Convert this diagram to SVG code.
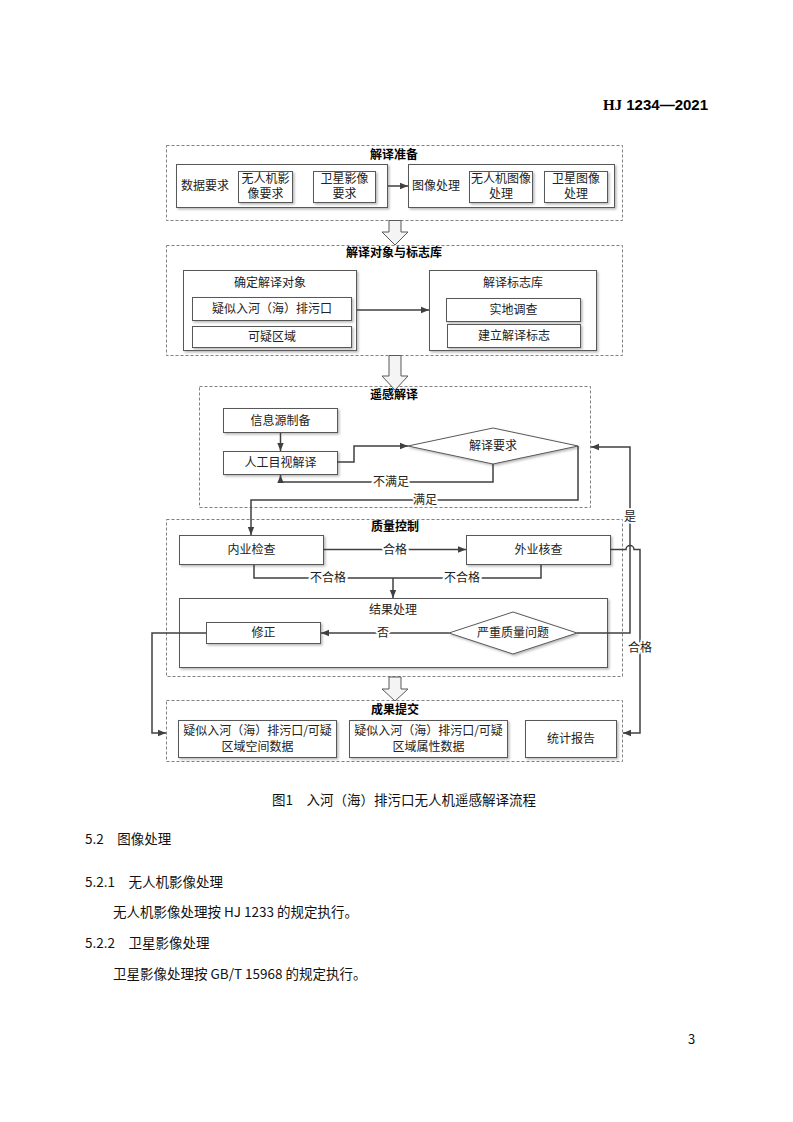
<svg xmlns="http://www.w3.org/2000/svg" width="793" height="1122" viewBox="0 0 793 1122">
<defs>
<style>
.dash{fill:none;stroke:#808080;stroke-width:1;stroke-dasharray:3 2}
.box{fill:#fff;stroke:#595959;stroke-width:1;filter:url(#sh)}
.t{font-family:"Noto Sans CJK SC",sans-serif;font-size:12px;fill:#222;text-anchor:middle}
.s{text-anchor:start}
.h{font-weight:bold;fill:#000}
.c{fill:none;stroke:#404040;stroke-width:1.5}
.a{marker-end:url(#ah)}
.lbl{paint-order:stroke;stroke:#fff;stroke-width:4px;stroke-linejoin:round}
.hol{fill:#f4f4f4;stroke:#595959;stroke-width:1}
.doc{font-family:"Noto Sans CJK SC",sans-serif;fill:#111}
</style>
<filter id="sh" x="-5%" y="-10%" width="115%" height="140%">
<feDropShadow dx="1.5" dy="1.5" stdDeviation="0.8" flood-color="#888" flood-opacity="0.6"/>
</filter>
<marker id="ah" viewBox="0 0 10 10" refX="10" refY="5" markerWidth="8" markerHeight="8" markerUnits="userSpaceOnUse" orient="auto">
<path d="M0,1 L10,5 L0,9 Z" fill="#404040"/>
</marker>
</defs>
<rect width="793" height="1122" fill="#fff"/>

<text x="708" y="110" font-size="15" font-weight="bold" text-anchor="end" fill="#000"><tspan font-family="Liberation Serif,serif">HJ</tspan><tspan font-family="Liberation Sans,sans-serif"> 1234—2021</tspan></text>

<!-- Stage 1 -->
<g id="stage1">
<rect class="dash" x="166.5" y="145.5" width="456" height="75"/>
<text class="t h" x="394" y="159">解译准备</text>
</g>
<g id="dataReq">
<rect class="box" x="176.5" y="164.5" width="211" height="43"/>
<text class="t s" x="181" y="190">数据要求</text>
</g>
<g id="uavReq">
<rect class="box" x="238.5" y="171.5" width="54" height="31"/>
<text class="t" x="265.5" y="183">无人机影</text>
<text class="t" x="265.5" y="198">像要求</text>
</g>
<g id="satReq">
<rect class="box" x="313.5" y="171.5" width="62" height="31"/>
<text class="t" x="344.5" y="183">卫星影像</text>
<text class="t" x="344.5" y="198">要求</text>
</g>
<g id="imgProc">
<rect class="box" x="408.5" y="164.5" width="206" height="43"/>
<text class="t s" x="412" y="190">图像处理</text>
</g>
<g id="uavProc">
<rect class="box" x="469.5" y="171.5" width="63" height="31"/>
<text class="t" x="501" y="183">无人机图像</text>
<text class="t" x="501" y="198">处理</text>
</g>
<g id="satProc">
<rect class="box" x="544.5" y="171.5" width="63" height="31"/>
<text class="t" x="576" y="183">卫星图像</text>
<text class="t" x="576" y="198">处理</text>
</g>

<!-- Stage 2 -->
<g id="stage2">
<rect class="dash" x="166.5" y="245.5" width="456" height="110"/>
<text class="t h" x="394" y="257">解译对象与标志库</text>
</g>
<g id="objects">
<rect class="box" x="183.5" y="270.5" width="173" height="80"/>
<text class="t" x="270" y="287">确定解译对象</text>
</g>
<g id="outlet">
<rect class="box" x="192.5" y="297.5" width="159" height="23"/>
<text class="t" x="272" y="313">疑似入河（海）排污口</text>
</g>
<g id="area">
<rect class="box" x="192.5" y="326.5" width="159" height="21"/>
<text class="t" x="272" y="341">可疑区域</text>
</g>
<g id="signLib">
<rect class="box" x="429.5" y="270.5" width="167" height="80"/>
<text class="t" x="513" y="287">解译标志库</text>
</g>
<g id="survey">
<rect class="box" x="446.5" y="298.5" width="134" height="23"/>
<text class="t" x="513.5" y="314">实地调查</text>
</g>
<g id="buildSign">
<rect class="box" x="447.5" y="324.5" width="133" height="23"/>
<text class="t" x="514" y="340">建立解译标志</text>
</g>

<!-- Stage 3 -->
<g id="stage3">
<rect class="dash" x="199.5" y="386.5" width="391" height="121"/>
<text class="t h" x="394" y="399">遥感解译</text>
</g>
<g id="source">
<rect class="box" x="223.5" y="408.5" width="114" height="24"/>
<text class="t" x="280.5" y="425">信息源制备</text>
</g>
<g id="visual">
<rect class="box" x="223.5" y="451.5" width="114" height="23"/>
<text class="t" x="280.5" y="467">人工目视解译</text>
</g>
<g id="reqDiamond">
<polygon class="box" points="408,446 493,428 578,446 493,464"/>
<text class="t" x="493" y="450">解译要求</text>
</g>

<!-- Stage 4 -->
<g id="stage4">
<rect class="dash" x="166.5" y="519.5" width="456" height="157"/>
<text class="t h" x="395" y="531">质量控制</text>
</g>
<g id="inner">
<rect class="box" x="179.5" y="535.5" width="144" height="29"/>
<text class="t" x="251.5" y="554">内业检查</text>
</g>
<g id="field">
<rect class="box" x="466.5" y="535.5" width="144" height="29"/>
<text class="t" x="538.5" y="554">外业核查</text>
</g>
<g id="result">
<rect class="box" x="179.5" y="598.5" width="428" height="69"/>
<text class="t" x="393" y="614">结果处理</text>
</g>
<g id="fix">
<rect class="box" x="206.5" y="622.5" width="114" height="21"/>
<text class="t" x="263.5" y="637">修正</text>
</g>
<g id="seriousDiamond">
<polygon class="box" points="449,633 513,612 577,633 513,654"/>
<text class="t" x="513" y="637">严重质量问题</text>
</g>

<!-- Stage 5 -->
<g id="stage5">
<rect class="dash" x="166.5" y="700.5" width="456" height="61"/>
<text class="t h" x="395" y="714">成果提交</text>
</g>
<g id="spatial">
<rect class="box" x="178.5" y="720.5" width="158" height="37"/>
<text class="t" x="257.5" y="735">疑似入河（海）排污口/可疑</text>
<text class="t" x="257.5" y="751">区域空间数据</text>
</g>
<g id="attr">
<rect class="box" x="349.5" y="720.5" width="158" height="37"/>
<text class="t" x="428.5" y="735">疑似入河（海）排污口/可疑</text>
<text class="t" x="428.5" y="751">区域属性数据</text>
</g>
<g id="report">
<rect class="box" x="525.5" y="720.5" width="91" height="37"/>
<text class="t" x="571" y="743">统计报告</text>
</g>

<!-- Connectors -->
<g id="connectors">
<path class="hol" d="M389,220.5 H401 V232 H408 L395,245 L382,232 H389 Z"/>
<path class="hol" d="M389,355.5 H401 V376 H408 L395,390 L382,376 H389 Z"/>
<path class="hol" d="M389,677 H401 V689 H408 L395,701 L382,689 H389 Z"/>

<path class="c a" d="M388,186 H408"/>
<path class="c a" d="M357,310 H429"/>
<path class="c a" d="M280.5,433 V451"/>
<path class="c a" d="M337,462 H354 V446 H408"/>
<path class="c a" d="M493,464 V482 H280.5 V475"/>
<path class="c a" d="M578,446 V500 H251 V535"/>
<path class="c a" d="M323,549.5 H466"/>
<path class="c" d="M254,565 V578 H393"/>
<path class="c" d="M541,565 V578 H393"/>
<path class="c a" d="M393,578 V598"/>
<path class="c a" d="M449,633 H321"/>
<path class="c a" d="M206,633 H152 V733 H166"/>
<path class="c a" d="M577,633 H630 V447 H591"/>
<path class="c a" d="M610,549.5 H626 A4,4 0 0 1 634,549.5 H640 V733 H623"/>

<text class="t lbl" x="391" y="486">不满足</text>
<text class="t lbl" x="425" y="504">满足</text>
<text class="t lbl" x="395" y="554">合格</text>
<text class="t lbl" x="328" y="582">不合格</text>
<text class="t lbl" x="462" y="582">不合格</text>
<text class="t lbl" x="383" y="637">否</text>
<text class="t lbl" x="630" y="521">是</text>
<text class="t lbl" x="640" y="652">合格</text>
</g>

<text class="doc" x="272" y="805" font-size="13.5">图1　入河（海）排污口无人机遥感解译流程</text>
<text class="doc" x="85" y="844" font-size="13.5">5.2　图像处理</text>
<text class="doc" x="85" y="887" font-size="13.5">5.2.1　无人机影像处理</text>
<text class="doc" x="113" y="917" font-size="13.5">无人机影像处理按 HJ 1233 的规定执行。</text>
<text class="doc" x="85" y="948" font-size="13.5">5.2.2　卫星影像处理</text>
<text class="doc" x="113" y="979" font-size="13.5">卫星影像处理按 GB/T 15968 的规定执行。</text>
<text class="doc" x="688" y="1044" font-size="13" font-family="Liberation Serif,serif">3</text>
</svg>
